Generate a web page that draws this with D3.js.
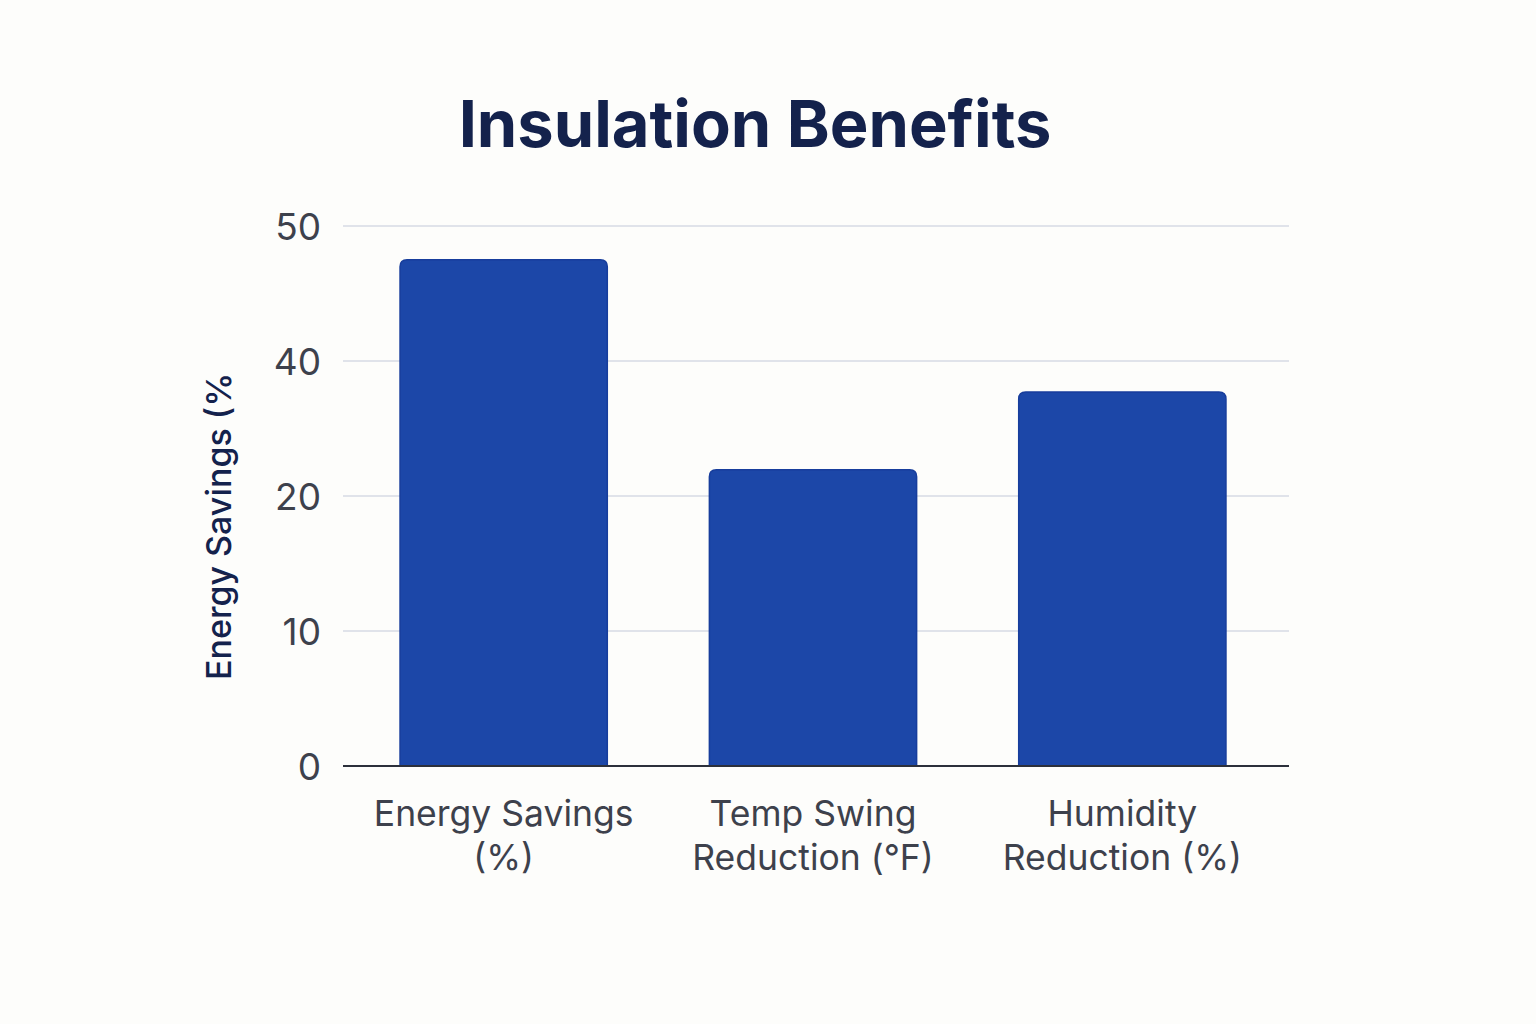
<!DOCTYPE html>
<html>
<head>
<meta charset="utf-8">
<script src="https://cdn.jsdelivr.net/npm/d3@7"></script>
<style>
  html, body { margin: 0; padding: 0; background: #fdfdfb; }
  svg { display: block; }
</style>
</head>
<body>
<svg id="chart" width="1536" height="1024"></svg>
<script>
const categories = [["Energy Savings", "(%)"], ["Temp Swing", "Reduction (°F)"], ["Humidity", "Reduction (%)"]];
const values = [47.5, 23.9, 35.4];
const tickValues = [0, 10, 20, 40, 50];
const tickLabels = ["0", "10", "20", "40", "50"];
const titleText = "Insulation Benefits";
const yTitleText = "Energy Savings (%";

const svg = d3.select("#chart");
svg.append("rect").attr("width", 1536).attr("height", 1024).attr("fill", "#fdfdfb");

const plotLeft = 343, plotRight = 1289, plotTop = 226, plotBottom = 766;

const x = d3.scaleBand()
  .domain(categories.map((d, i) => i))
  .range([349, 1277])
  .paddingInner(0.33)
  .paddingOuter(0.165);

// evenly spaced tick positions (as drawn in the reference)
const y = d3.scaleLinear()
  .domain(tickValues)
  .range(tickValues.map((d, i) => plotBottom - i * (plotBottom - plotTop) / (tickValues.length - 1)));

// gridlines
svg.append("g").selectAll("line")
  .data(tickValues.slice(1))
  .join("line")
  .attr("x1", plotLeft).attr("x2", plotRight)
  .attr("y1", d => y(d)).attr("y2", d => y(d))
  .attr("stroke", "#d6dae4").attr("stroke-width", 1.5);

// y axis labels
const yAxis = d3.axisLeft(y).tickValues(tickValues).tickFormat((d, i) => tickLabels[i]).tickSize(0).tickPadding(0);
const gy = svg.append("g").attr("transform", `translate(321,0)`).call(yAxis);
gy.select(".domain").remove();
gy.selectAll("text")
  .attr("font-family", "Inter, sans-serif")
  .attr("font-size", 37)
  .attr("fill", "#3d414c")
  .attr("dy", "0.36em");

// bars with rounded top corners
const r = 7;
svg.append("g").selectAll("path")
  .data(values)
  .join("path")
  .attr("d", (v, i) => {
    const x0 = x(i), x1 = x(i) + x.bandwidth(), yt = y(v), yb = y(0);
    return `M${x0},${yb} L${x0},${yt + r} Q${x0},${yt} ${x0 + r},${yt} L${x1 - r},${yt} Q${x1},${yt} ${x1},${yt + r} L${x1},${yb} Z`;
  })
  .attr("fill", "#1c47a8")
  .attr("stroke", "#173d9c")
  .attr("stroke-width", 1.5);

// baseline
svg.append("line")
  .attr("x1", plotLeft).attr("x2", plotRight)
  .attr("y1", y(0)).attr("y2", y(0))
  .attr("stroke", "#2c303b").attr("stroke-width", 2);

// x labels
const xl = svg.append("g").selectAll("text")
  .data(categories)
  .join("text")
  .attr("x", (d, i) => x(i) + x.bandwidth() / 2)
  .attr("y", 826)
  .attr("text-anchor", "middle")
  .attr("font-family", "Inter, sans-serif")
  .attr("font-size", 35.5)
  .attr("fill", "#3d414c");
xl.selectAll("tspan")
  .data(d => d)
  .join("tspan")
  .attr("x", function () { return d3.select(this.parentNode).attr("x"); })
  .attr("dy", (d, i) => i === 0 ? 0 : 44)
  .text(d => d);

// title
svg.append("text")
  .attr("x", 755).attr("y", 147)
  .attr("text-anchor", "middle")
  .attr("font-family", "Inter, sans-serif")
  .attr("font-weight", 700)
  .attr("font-size", 65)
  .attr("fill", "#14224c")
  .text(titleText);

// y title
svg.append("text")
  .attr("transform", "translate(231,680) rotate(-90)")
  .attr("text-anchor", "start")
  .attr("font-family", "Inter, sans-serif")
  .attr("font-weight", 500)
  .attr("font-size", 34)
  .attr("fill", "#14224c")
  .text(yTitleText);
</script>
</body>
</html>
